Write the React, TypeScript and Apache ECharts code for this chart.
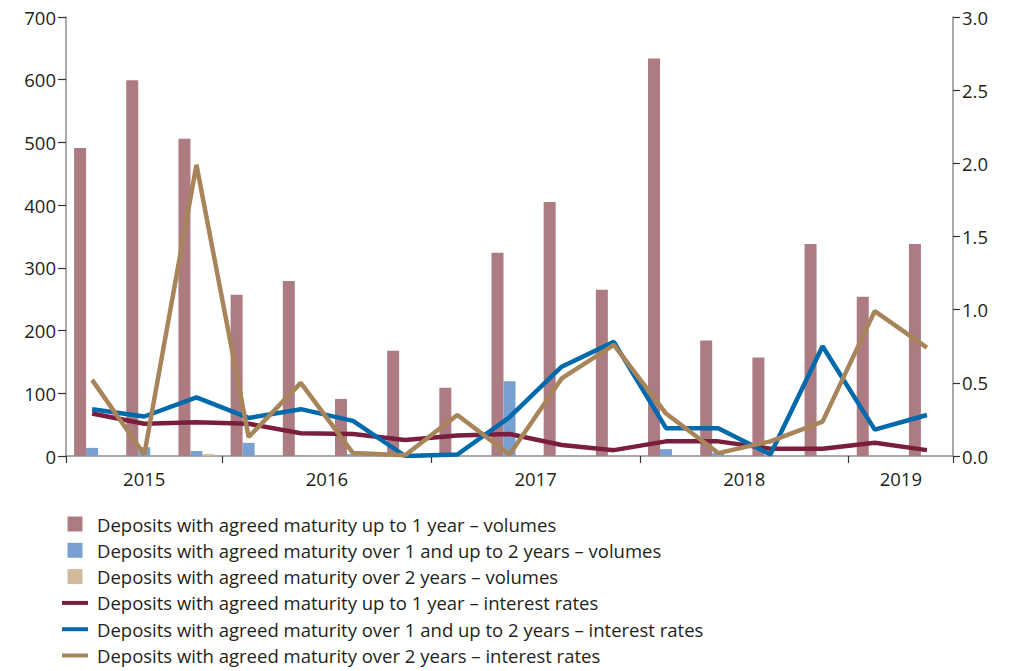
import React, { useEffect, useRef } from "react";
import * as echarts from "echarts";

const categories = [
  "2015 Q2", "2015 Q3", "2015 Q4",
  "2016 Q1", "2016 Q2", "2016 Q3", "2016 Q4",
  "2017 Q1", "2017 Q2", "2017 Q3", "2017 Q4",
  "2018 Q1", "2018 Q2", "2018 Q3", "2018 Q4",
  "2019 Q1", "2019 Q2",
];
const years = ["2015", "2016", "2017", "2018", "2019"];
const periodsPerYear = [3, 4, 4, 4, 2];

const volUpTo1 = [491, 599, 506, 257, 279, 91, 168, 109, 324, 405, 265, 634, 184, 157, 338, 254, 338];
const volOver1To2 = [13, 14, 8, 21, 1, 3, 0, 0, 119, 0, 0, 11, 5, 0, 0, 0, 0];
const volOver2 = [0, 0, 3, 0, 0, 0, 0, 0, 0, 0, 0, 0, 0, 0, 0, 0, 0];

const rateUpTo1 = [0.29, 0.22, 0.23, 0.22, 0.155, 0.15, 0.11, 0.14, 0.15, 0.075, 0.04, 0.1, 0.1, 0.05, 0.05, 0.09, 0.04];
const rateOver1To2 = [0.32, 0.27, 0.4, 0.26, 0.32, 0.24, 0.0, 0.01, 0.265, 0.61, 0.78, 0.19, 0.19, 0.01, 0.75, 0.18, 0.28];
const rateOver2 = [0.52, 0.01, 1.99, 0.13, 0.5, 0.02, 0.005, 0.28, 0.01, 0.53, 0.76, 0.29, 0.02, 0.1, 0.235, 0.99, 0.74];

const seriesNames = [
  "Deposits with agreed maturity up to 1 year – volumes",
  "Deposits with agreed maturity over 1 and up to 2 years – volumes",
  "Deposits with agreed maturity over 2 years – volumes",
  "Deposits with agreed maturity up to 1 year – interest rates",
  "Deposits with agreed maturity over 1 and up to 2 years – interest rates",
  "Deposits with agreed maturity over 2 years – interest rates",
];

const FONT = "'Open Sans', Lato, sans-serif";
const TEXT = "#231f20";
const FS = 18.5;

export default function App() {
  const ref = useRef<HTMLDivElement>(null);
  useEffect(() => {
    document.body.style.margin = "0";
    if (!ref.current) return;
    const chart = echarts.init(ref.current, undefined, { renderer: "svg" });

    const boundaries: number[] = [0];
    periodsPerYear.forEach((n) => boundaries.push(boundaries[boundaries.length - 1] + n));
    const centers = periodsPerYear.map((n, i) => boundaries[i] + n / 2);

    const squareIcon = "path://M0,0H10V10H0Z";
    const lineIcon = "path://M0,0H26V4H0Z";

    chart.setOption({
      animation: false,
      textStyle: { fontFamily: FONT },
      grid: { left: 66, right: 57, top: 17, bottom: 215, containLabel: false },
      legend: {
        orient: "vertical",
        left: 62,
        top: 514,
        padding: 0,
        itemWidth: 26,
        itemHeight: 15,
        itemGap: 6.3,
        symbolKeepAspect: true,
        textStyle: {
          fontFamily: FONT,
          fontSize: FS,
          color: TEXT,
          lineHeight: 20,
          padding: [0, 0, 0, 4],
        },
        data: seriesNames.map((n, i) => ({
          name: n,
          icon: i < 3 ? squareIcon : lineIcon,
        })),
      },
      xAxis: [
        {
          type: "category",
          data: categories,
          show: false,
          boundaryGap: true,
        },
        {
          type: "value",
          min: 0,
          max: categories.length,
          position: "bottom",
          axisLine: { show: true, lineStyle: { color: "#8c8c8c", width: 1.5 } },
          axisTick: {
            show: true,
            length: 7,
            customValues: boundaries,
            lineStyle: { color: "#333", width: 1.2 },
          },
          axisLabel: {
            customValues: centers,
            formatter: (v: number) => {
              const idx = centers.findIndex((c) => Math.abs(c - v) < 1e-6);
              return idx >= 0 ? years[idx] : "";
            },
            fontSize: FS,
            color: TEXT,
            margin: 13,
            fontFamily: FONT,
          },
          splitLine: { show: false },
        },
      ],
      yAxis: [
        {
          type: "value",
          min: 0,
          max: 700,
          interval: 100,
          axisLine: { show: true, lineStyle: { color: "#8c8c8c", width: 1.5 } },
          axisTick: { show: true, length: 8, lineStyle: { color: "#333", width: 1.2 } },
          axisLabel: { fontSize: FS, color: TEXT, margin: 10, fontFamily: FONT },
          splitLine: { show: false },
        },
        {
          type: "value",
          min: 0,
          max: 3,
          interval: 0.5,
          position: "right",
          axisLine: { show: true, lineStyle: { color: "#8c8c8c", width: 1.5 } },
          axisTick: { show: true, length: 7, lineStyle: { color: "#333", width: 1.2 } },
          axisLabel: {
            fontSize: FS,
            color: TEXT,
            margin: 9,
            fontFamily: FONT,
            formatter: (v: number) => v.toFixed(1),
          },
          splitLine: { show: false },
        },
      ],
      series: [
        {
          name: seriesNames[0],
          type: "bar",
          xAxisIndex: 0,
          yAxisIndex: 0,
          data: volUpTo1,
          barWidth: 12,
          barGap: "0%",
          itemStyle: { color: "#ad7c82" },
        },
        {
          name: seriesNames[1],
          type: "bar",
          xAxisIndex: 0,
          yAxisIndex: 0,
          data: volOver1To2,
          barWidth: 12,
          barGap: "0%",
          itemStyle: { color: "#78a1d2" },
        },
        {
          name: seriesNames[2],
          type: "bar",
          xAxisIndex: 0,
          yAxisIndex: 0,
          data: volOver2,
          barWidth: 12,
          barGap: "0%",
          itemStyle: { color: "#d2b99c" },
        },
        {
          name: seriesNames[3],
          type: "line",
          xAxisIndex: 0,
          yAxisIndex: 1,
          data: rateUpTo1,
          symbol: "none",
          lineStyle: { color: "#7a1e3e", width: 4.5 },
          itemStyle: { color: "#7a1e3e" },
        },
        {
          name: seriesNames[4],
          type: "line",
          xAxisIndex: 0,
          yAxisIndex: 1,
          data: rateOver1To2,
          symbol: "none",
          lineStyle: { color: "#006aad", width: 4.5 },
          itemStyle: { color: "#006aad" },
        },
        {
          name: seriesNames[5],
          type: "line",
          xAxisIndex: 0,
          yAxisIndex: 1,
          data: rateOver2,
          symbol: "none",
          lineStyle: { color: "#a8845a", width: 4.5 },
          itemStyle: { color: "#a8845a" },
        },
      ],
    });
    return () => chart.dispose();
  }, []);
  return <div ref={ref} style={{ width: 1010, height: 671 }} />;
}
